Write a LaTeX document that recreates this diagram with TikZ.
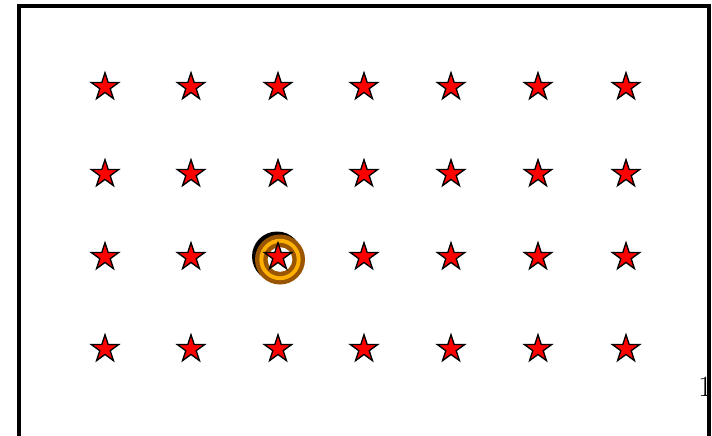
\documentclass[tikz,border=0pt]{standalone}
\usetikzlibrary{shapes.geometric}
\definecolor{ringbrown}{RGB}{153,85,0}
\definecolor{ringorange}{RGB}{255,175,0}
\tikzset{
  redstar/.style={star, star points=5, star point ratio=2.618, minimum size=21.5pt,
    inner sep=0pt, draw=black, line width=1pt, fill=red},
  disc/.style={circle, inner sep=0pt, minimum size=#1}
}
\begin{document}
\begin{tikzpicture}[x=0.75pt,y=-0.75pt]
\useasboundingbox (0,0) rectangle (712,435);
\clip (0,0) rectangle (712,435);
\fill[white] (0,0) rectangle (712,435);
% page number
\node[anchor=base, inner sep=0pt, font=\fontsize{22}{26}\selectfont] (pn) at (705,396) {1};
% frame
\draw[line width=3pt] (19,450) -- (19,6) -- (709,6) -- (709,450);
% highlight ring
\node[disc=37.5pt, fill=black] (sh) at (277,256.5) {};
\node[disc=37.5pt, fill=ringbrown] (r1) at (280,259.5) {};
\node[disc=31pt, fill=ringorange] (r2) at (280,259.5) {};
\node[disc=25pt, fill=ringbrown] (r3) at (280,259.5) {};
\node[disc=18.5pt, fill=white] (r4) at (280,259.5) {};
% stars
\foreach \y [count=\r] in {87,174,257,349}{
  \foreach \x [count=\c] in {105,191,278,364,451,538,626}{
    \node[redstar] (s-\r-\c) at (\x,\y) {};
  }
}
\end{tikzpicture}
\end{document}
